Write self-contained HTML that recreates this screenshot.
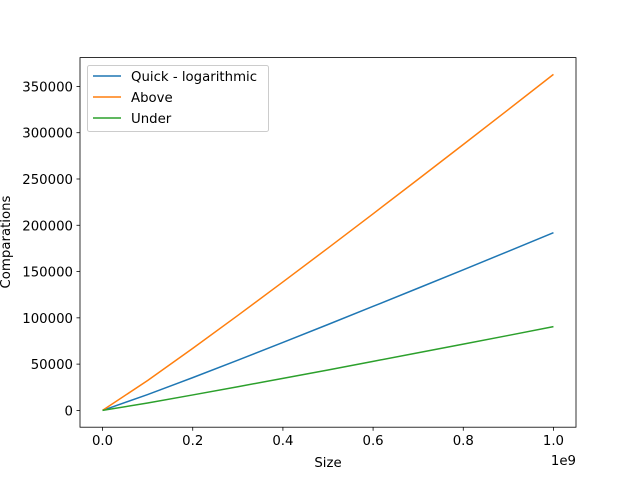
<!DOCTYPE html>
<html><head><meta charset="utf-8"><style>
body{margin:0;background:#fff;}
svg{display:block;font-family:"DejaVu Sans","Liberation Sans",sans-serif;}
</style></head><body>
<svg id="chart" width="640" height="480"></svg>
<script>
const sizes=[0,0.1e9,0.2e9,0.3e9,0.4e9,0.5e9,0.6e9,0.7e9,0.8e9,0.9e9,1e9];
const quick=[0,17100,35400,54300,73400,92800,112400,132100,151900,171900,192000];
const above=[0,32300,67000,102600,138800,175400,212400,249700,287300,325000,363000];
const under=[0,8000,16700,25600,34600,43700,53000,62300,71600,81000,90500];
const xTicks=[0,0.2e9,0.4e9,0.6e9,0.8e9,1e9];
const xTickLabels=["0.0","0.2","0.4","0.6","0.8","1.0"];
const yTicks=[0,50000,100000,150000,200000,250000,300000,350000];
const seriesNames=["Quick - logarithmic","Above","Under"];
const colors=["#1f77b4","#ff7f0e","#2ca02c"];

const L=80,R=576,T=57.6,B=427.2;
const xmin=-0.05e9,xmax=1.05e9,ymin=-18150,ymax=381150;
const sx=v=>L+(v-xmin)/(xmax-xmin)*(R-L);
const sy=v=>B-(v-ymin)/(ymax-ymin)*(B-T);
const svg=document.getElementById('chart');
const NS='http://www.w3.org/2000/svg';
function mk(tag,attrs,parent){const e=document.createElementNS(NS,tag);for(const k in attrs)e.setAttribute(k,attrs[k]);(parent||svg).appendChild(e);return e;}

[quick,above,under].forEach((s,i)=>{
  const p=mk('polyline',{points:sizes.map((x,j)=>sx(x)+','+sy(s[j])).join(' '),fill:'none',stroke:colors[i],'stroke-width':1.5});
  
  
});
const frame=mk('rect',{x:L,y:T,width:R-L,height:B-T,fill:'none',stroke:'#000','stroke-width':0.8});



xTicks.forEach((v,i)=>{
  mk('line',{x1:sx(v),x2:sx(v),y1:B,y2:B+3.5,stroke:'#000','stroke-width':0.8});
  const t=mk('text',{x:sx(v),y:B+18,'font-size':13.3,'text-anchor':'middle'});
  t.textContent=xTickLabels[i];
  
  
});
yTicks.forEach(v=>{
  mk('line',{x1:L-3.5,x2:L,y1:sy(v),y2:sy(v),stroke:'#000','stroke-width':0.8});
  const t=mk('text',{x:L-7,y:sy(v)+5,'font-size':13.3,'text-anchor':'end'});
  t.textContent=String(v);
  
  
});
const off=mk('text',{x:576,y:465,'font-size':13.3,'text-anchor':'end'});off.textContent='1e9';


const xt=mk('text',{x:328,y:467,'font-size':13.3,'text-anchor':'middle'});xt.textContent='Size';


const yt=mk('text',{x:0,y:0,'font-size':13.3,'text-anchor':'middle',transform:'translate(10,242) rotate(-90)'});yt.textContent='Comparations';



const lg=mk('g',{});


mk('rect',{x:87.5,y:65.5,width:181,height:66,rx:2,fill:'#fff','fill-opacity':0.8,stroke:'#ccc','stroke-width':1},lg);
seriesNames.forEach((n,i)=>{
  const y=76+i*21;
  const g=mk('g',{},lg);
  
  
  mk('line',{x1:93,x2:121,y1:y,y2:y,stroke:colors[i],'stroke-width':1.5},g);
  const t=mk('text',{x:131,y:y+5,'font-size':13.3},g);t.textContent=n;
});
</script>
</body></html>
